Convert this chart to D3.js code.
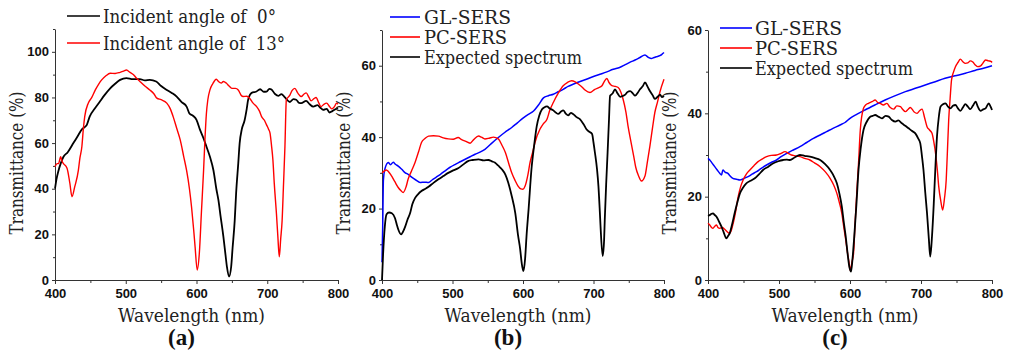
<!DOCTYPE html>
<html>
<head>
<meta charset="utf-8">
<script src="https://cdn.jsdelivr.net/npm/d3@7"></script>
<style>
  body { margin: 0; background: #fff; }
  svg { display: block; }
  .domain, .tick line { stroke: #333; }
</style>
</head>
<body>
<svg id="chart" width="1009" height="351"></svg>
<script>
// ---- data: [wavelength (nm), transmittance (%)] ----

// panel (a)
const aBlack = [[400,40],[402,44],[405,48],[408,51],[412,54],[418,56],[426,60],[432,63],[438,66],[442,67],[445,68],
  [449,71.6],[456,75],[463,78],[470,81],[478,84],[485,86],[492,87.7],[501,88.5],[510,88],[520,88],[527,87.5],[534,87.7],
  [543,87],[550,85],[558,83.3],[565,82],[572,80.4],[579,78],[586,76],[590,73],[595,72],[600,70.2],[605,65.8],[610,62],
  [614,58.5],[619,54],[624,48],[628,40],[631,35],[634,28],[638,19],[641,11],[643,5.8],[646,1.5],[649,5.8],[651,14],
  [654,26],[656,38],[659,51],[661,60],[664,66],[668,70],[671,75],[673,79],[678,82],[684,82.5],[690,83.6],[695,82.5],
  [699,82.6],[703,83.8],[706,83.5],[711,81.5],[716,80.7],[720,81.5],[725,80],[732,78],[737,79.3],[741,79],[745,77.6],
  [748,77.5],[755,78.5],[760,77],[765,76],[771,76.6],[775,75.5],[779,74.6],[784,75],[788,73.4],[792,74],[795,74.6],[800,75.5]];
const aRed = [[400,49.7],[403,51],[405,51],[408,54],[410,52],[412,51],[417,49],[421,42.4],[424,36.5],[428,41],[433,48],
  [435,53],[438,58.5],[440,66],[442,71.6],[447,77.5],[452,80],[457,83.3],[462,86],[466,87.7],[472,89.5],[478,90.6],
  [485,90.5],[492,91],[497,91.5],[501,92],[506,91],[511,90],[515,88.5],[520,87],[527,85],[534,83.3],[540,81.5],
  [544,79.7],[550,79],[558,77.5],[563,75],[567,71.6],[572,66.5],[577,61.4],[582,54],[586,48],[590,40],[593,32],
  [596,22],[598,14.6],[601,4.4],[604,11.7],[607,30],[610,48],[612,62],[614,73],[616,79],[619,83.3],[623,86],
  [628,88],[631,87],[635,86.3],[638,87],[642,86.3],[646,85],[650,84],[655,84],[659,83.3],[663,81],[666,80.4],
  [671,80.5],[675,79.7],[680,77.5],[685,76],[689,74],[692,71.6],[696,70],[699,68],[702,66],[704,64.3],[706,59],
  [708,52.6],[710,42],[713,29],[715,19],[717,10.2],[719,18],[721,26],[723,42],[725,58.5],[727,79],[732,81],
  [735,83],[739,84],[743,82],[748,80.4],[752,81.5],[755,82],[759,80],[762,78.5],[766,79.5],[769,80],[773,77.5],
  [776,76],[780,77],[784,77.5],[788,76],[791,75],[795,76],[798,77.5],[800,77]];

// panel (b)
const bBlue = [[400,5],[401,15],[402,28],[404,31],[409,32.9],[412,32.3],[416,33],[419,32.4],[423,31.9],[428,31],
  [433,30],[437,29.6],[442,28.8],[448,28],[454,27.3],[460,27.4],[466,27.3],[471,28],[477,28.8],[483,29.6],[489,30.5],
  [496,31.5],[504,32.4],[511,33.1],[518,33.8],[525,34.5],[532,35.2],[539,35.8],[546,36.6],[555,38.2],[565,39.9],
  [574,41.3],[584,42.7],[592,44],[600,45.3],[607,46.3],[615,47.3],[622,49],[629,51],[636,51.6],[643,52],[650,52.7],
  [657,53.4],[664,54.2],[671,54.8],[680,55.5],[690,56.2],[699,56.9],[709,57.6],[718,58.2],[728,59],[737,59.5],
  [745,60.3],[752,61],[759,61.6],[766,62.3],[773,63],[778,62.3],[782,62],[786,62.3],[789,62.5],[794,62.8],[797,63.2],[800,63.7]];
const bRed = [[400,30],[403,30.5],[406,30.8],[409,30.4],[413,29.3],[418,27.6],[423,25.9],[427,25],[430,24.5],[434,26],
  [437,28.2],[442,30.6],[447,33],[452,36],[456,38.5],[461,39.6],[466,40.3],[473,40.4],[480,40.3],[487,39.8],[494,39.5],
  [501,39.4],[508,39.9],[513,39.3],[518,38.9],[525,38.3],[530,39.3],[537,40.3],[541,40],[546,39.5],[552,39.7],[558,40],
  [565,39.5],[570,37.8],[575,35.7],[580,32.5],[584,30],[589,27.8],[593,26.3],[597,25.5],[600,25.4],[603,26.3],
  [607,29.5],[610,32.9],[614,36],[617,38.5],[624,42.2],[629,43.8],[634,45],[638,47.5],[643,49.7],[650,52.3],
  [657,54.4],[663,55.3],[669,55.8],[674,55.5],[679,54.8],[684,54],[688,53.2],[695,52.5],[702,53.4],[707,53.8],
  [712,54.4],[715,55.5],[719,56.4],[722,55.3],[726,54.4],[731,54.2],[735,53.9],[739,52.5],[742,50.6],[746,47],
  [749,43.1],[753,38.8],[757,34.7],[760,31.5],[764,29.1],[768,27.7],[773,29.1],[776,32.5],[780,37.5],[784,43],
  [787,46.9],[791,50],[794,52.5],[800,56.2]];
const bBlack = [[400,0],[401.5,7],[404,15],[406.5,18.4],[410,18.9],[414,18.7],[418.5,17.3],[421,15.5],[423,14.2],
  [427,12.8],[430,13.6],[433,15],[436,16.8],[440,18.8],[443,21.2],[447,23],[451,24],[456,24.9],[461,25.5],[466,26.1],
  [473,27.2],[480,28.2],[487,29.1],[494,30],[501,30.7],[508,31.3],[515,32.3],[522,33.3],[529,33.6],[537,33.8],
  [544,33.5],[551,33.6],[556,33.2],[560,32.9],[565,32],[570,31],[575,29.5],[579,27.3],[584,23.5],[589,18.8],
  [593,12.5],[596,8.6],[598,5],[600.5,2.5],[603,6],[605,12.3],[608,20],[612,31],[616,38],[619.5,43.1],[623,46],
  [627,47.8],[630,48.3],[634,48.6],[638,48],[643,47.5],[647,46.8],[650,46.5],[654,47.2],[657,47.5],[661,46.5],
  [664,46.1],[668,46.8],[671,46.5],[676,45.6],[681,45],[686,43.6],[690,42.2],[694,41.5],[698,40.9],[700,38.5],
  [702,35.7],[705,31],[707,26.3],[709,19],[710,15],[713,6.7],[715,11],[716,17],[718,27],[720,35.7],[722,45],
  [723.5,51.6],[727,52.2],[730.5,53.4],[734,52.3],[738,51.3],[741,51.5],[745,51.9],[748,52.6],[752,52.9],[756,52.2],
  [759,51.6],[763,52.5],[766,53.4],[770,54.3],[773,55.3],[777,54],[780,52.9],[784,51.7],[787,50.7],[791,51.3],
  [794.5,51.9],[797,51.2],[800,51.5]];

// panel (c)
const cBlue = [[400,29.2],[402.5,28.8],[406,28],[409.5,27.2],[413,26.4],[416.5,25.6],[419,25.2],[421,26.4],[424,25.9],
  [428,25.6],[431,25],[435,24.4],[440,24.2],[445,24],[451,24.4],[456.5,24.8],[462,25.4],[468.5,26],[475,26.8],
  [482.5,27.6],[489,28.2],[496.5,28.8],[503,29.6],[511,30.4],[520,31.2],[529.5,32],[539,33],[548.5,34],[558,34.8],
  [567,35.6],[576,36.4],[586,37.2],[593,37.8],[600,38.8],[610,39.8],[621,40.8],[635,42],[649.5,43.2],[663,44.2],
  [678,45.2],[692,46],[706,46.8],[720,47.6],[734,48.4],[748,49],[762.5,49.6],[776,50.3],[788,50.8],[800,51.4]];
const cRed = [[400,13.6],[402.5,13.2],[405,12.6],[407,12.4],[409.5,12.9],[412,13.2],[414,12.6],[416.5,12.4],[420,12.6],
  [423.5,12.2],[427,11.6],[430.5,11.2],[433,12],[435.5,13.6],[439,16.5],[442.5,20],[446,22.4],[449.5,24],
  [454,25.4],[459,26.4],[465,27.5],[470.5,28.4],[476,29],[482.5,29.6],[489,29.9],[496.5,30],[502,30.3],[508.5,30.8],
  [513,30.4],[517.5,30],[523,29.8],[529.5,29.6],[536,29.2],[543.5,28.8],[550,28.1],[558,27.2],[565,26],[572,24.4],
  [577,22.8],[581.5,20.8],[585,18.6],[588.5,16],[591,13],[594,9.6],[596.5,6.5],[598.8,4],[600,2.4],[603,4.5],
  [605,6.4],[607,13],[609.5,20.8],[612,28],[614.5,36],[619,41.2],[622,42],[626,42.4],[631,42.8],[635.5,43.2],
  [639,42.6],[642.5,42.4],[647,42],[652,42.4],[656,41.5],[661.5,41],[666,41.8],[671,41.6],[674,41],[678,40.4],
  [682,41],[685,41.4],[690,40.4],[694.5,40],[698,40.6],[701.5,41],[705,39],[708.5,36.8],[712,36],[715.5,35.2],
  [718,33.2],[720.5,30.4],[723,26.4],[725,22.4],[728,18.8],[730.5,16.8],[733,19.5],[735.5,24],[737,30],[739,38.4],
  [741,43.5],[743,48],[746,50],[748.5,51.2],[752,52.2],[755.5,53],[759,52.4],[762.5,52],[766,52.1],[769.5,52.6],
  [773,52.3],[776.5,51.6],[780,51.2],[784,51.4],[787,52],[791,52.8],[795,52.6],[799,52.4],[800,52.2]];
const cBlack = [[400,15.4],[402.5,15.6],[405,15.9],[407,16],[409.5,15.6],[412,15.2],[415,14.2],[419,12.8],[422,11.5],
  [426,10],[428,10.5],[430.5,11.2],[434,13.4],[437.5,16],[441,18.4],[445,20.8],[449,22.1],[454,23.2],[460,23.8],
  [466,24.4],[472,25.4],[477.5,26.4],[485,27.2],[492,28],[499,28.5],[506,28.8],[511,28.9],[515.5,28.8],[522,29.4],
  [529.5,30],[536,29.8],[543.5,29.6],[550,29.3],[558,28.8],[565,27.8],[572,26.4],[577,25],[581.5,23.2],[585,20.8],
  [588.5,17.6],[591,14.2],[594,10.4],[596.5,6.5],[599,3.2],[601.5,2],[603.5,5],[606,10.4],[609,18],[612,26.4],
  [615,31.5],[619,36],[623,37.8],[628.5,39.2],[632,39.4],[635.5,39.6],[640,39.2],[645,38.8],[650,39.4],[654.5,39.2],
  [659,38.4],[664,38],[668,38.3],[673,37.6],[678,37],[682.5,36.4],[687,35.8],[692,35.2],[696,34],[699,32.8],
  [701.5,29.5],[703.5,26.4],[706,21],[708.5,16],[711,10],[713,5.6],[715.5,10.5],[718,18.4],[720,26],[722.5,34.4],
  [725,39],[727.5,41.6],[731,42.2],[734.5,42.4],[738,41.6],[741.5,41.2],[745,41.8],[748.5,42],[752,41.2],
  [755.5,40.6],[759,41.4],[762.5,42.2],[766,41.6],[769.5,41],[773,41.8],[777,42.8],[780,41.6],[784,40.6],
  [787,40.9],[791,41.2],[795.5,42.4],[798,41.6],[800,40.8]];

// tick values and labels
const xTicks = [400, 500, 600, 700, 800];
const xMinorTicks = [450, 550, 650, 750];
const aYTicks = [0, 20, 40, 60, 80, 100];
const bYTicks = [0, 20, 40, 60];
const cYTicks = [0, 20, 40, 60];
const xTitle = "Wavelength (nm)";
const yTitle = "Transmittance (%)";
const panelNames = ["(a)", "(b)", "(c)"];
const aLegend = ["Incident angle of  0°", "Incident angle of  13°"];
const sersLegend = ["GL-SERS", "PC-SERS", "Expected spectrum"];

// regular Liberation Serif is not picked up here, DejaVu Serif squeezed to Times widths instead
const SERIF = "'DejaVu Serif', 'Liberation Serif', serif";
const SERIF_BOLD = "'Liberation Serif', 'Times New Roman', serif";
const SANS = "'Liberation Sans', Arial, Helvetica, sans-serif";

const svg = d3.select("#chart");

// layout of the three panels (pixel box of the plot area)
const panels = [
  { name: panelNames[0], left: 55, right: 338, top: 29, bottom: 280, yMax: 110, yTicks: aYTicks, yMinorStep: 10,
    series: [{ data: aBlack, color: "#000", width: 1.8 }, { data: aRed, color: "#ff0000", width: 1.4 }],
    legend: { x1: 67, x2: 100, tx: 103, y0: 16, dy: 27, labels: aLegend, widths: [173, 182], colors: ["#000", "#ff0000"] } },
  { name: panelNames[1], left: 382, right: 664, top: 30, bottom: 280, yMax: 70, yTicks: bYTicks, yMinorStep: 10,
    series: [{ data: bBlue, color: "#0000ff", width: 1.5 }, { data: bRed, color: "#ff0000", width: 1.4 }, { data: bBlack, color: "#000", width: 1.8 }],
    legend: { x1: 390, x2: 420, tx: 424, y0: 17, dy: 20, labels: sersLegend, widths: [87, 83, 158], colors: ["#0000ff", "#ff0000", "#000"] } },
  { name: panelNames[2], left: 708, right: 992, top: 30, bottom: 280, yMax: 60, yTicks: cYTicks, yMinorStep: 10,
    series: [{ data: cBlue, color: "#0000ff", width: 1.5 }, { data: cRed, color: "#ff0000", width: 1.4 }, { data: cBlack, color: "#000", width: 1.8 }],
    legend: { x1: 720, x2: 752, tx: 755, y0: 28, dy: 20, labels: sersLegend, widths: [87, 83, 158], colors: ["#0000ff", "#ff0000", "#000"] } }
];

function styleTicks(sel) {
  sel.selectAll(".tick text")
    .attr("font-family", SANS)
    .attr("font-weight", "bold")
    .attr("font-size", 13)
    .attr("fill", "#111");
}

panels.forEach(p => {
  const x = d3.scaleLinear().domain([400, 800]).range([p.left, p.right]);
  const y = d3.scaleLinear().domain([0, p.yMax]).range([p.bottom, p.top]);
  const g = svg.append("g");

  // minor ticks first, then the major axis on top
  const yMinor = d3.range(0, p.yMax + 0.1, p.yMinorStep).filter(v => !p.yTicks.includes(v));
  g.append("g").attr("transform", `translate(${p.left},0)`)
    .call(d3.axisLeft(y).tickValues(yMinor).tickSize(2).tickFormat(""))
    .call(s => s.select(".domain").remove());
  g.append("g").attr("transform", `translate(0,${p.bottom})`)
    .call(d3.axisBottom(x).tickValues(xMinorTicks).tickSize(3).tickFormat(""))
    .call(s => s.select(".domain").remove());

  g.append("g").attr("transform", `translate(${p.left},0)`)
    .call(d3.axisLeft(y).tickValues(p.yTicks).tickSize(3).tickSizeOuter(0).tickPadding(3))
    .call(styleTicks);
  g.append("g").attr("transform", `translate(0,${p.bottom})`)
    .call(d3.axisBottom(x).tickValues(xTicks).tickSize(4).tickSizeOuter(0).tickPadding(5))
    .call(styleTicks);

  const line = d3.line().x(d => x(d[0])).y(d => y(d[1])).curve(d3.curveMonotoneX);
  p.series.forEach(s => {
    g.append("path").datum(s.data)
      .attr("fill", "none")
      .attr("stroke", s.color)
      .attr("stroke-width", s.width)
      .attr("stroke-linejoin", "round")
      .attr("d", line);
  });

  // titles
  const cx = (p.left + p.right) / 2 - 5;
  g.append("text")
    .attr("font-family", SERIF).attr("font-size", 19).attr("fill", "#222")
    .attr("x", cx).attr("y", 322).attr("text-anchor", "middle")
    .attr("textLength", 147).attr("lengthAdjust", "spacingAndGlyphs").text(xTitle);
  g.append("text")
    .attr("font-family", SERIF).attr("font-size", 18).attr("fill", "#222")
    .attr("transform", `translate(${p.left - 32},163) rotate(-90)`)
    .attr("text-anchor", "middle")
    .attr("textLength", 143).attr("lengthAdjust", "spacingAndGlyphs").text(yTitle);
  g.append("text")
    .attr("font-family", SERIF_BOLD).attr("font-size", 23).attr("font-weight", "bold").attr("fill", "#111")
    .attr("x", cx - 10).attr("y", 345).attr("text-anchor", "middle").text(p.name);

  // legend
  const lg = g.append("g");
  p.legend.labels.forEach((lab, i) => {
    const ly = p.legend.y0 + i * p.legend.dy;
    lg.append("line").attr("x1", p.legend.x1).attr("x2", p.legend.x2)
      .attr("y1", ly).attr("y2", ly)
      .attr("stroke", p.legend.colors[i]).attr("stroke-width", 1.6);
    lg.append("text")
      .attr("font-family", SERIF).attr("font-size", 18).attr("fill", "#222")
      .attr("x", p.legend.tx).attr("y", ly + 6.5)
      .attr("textLength", p.legend.widths[i]).attr("lengthAdjust", "spacingAndGlyphs")
      .attr("xml:space", "preserve").style("white-space", "pre")
      .text(lab);
  });
});
</script>
</body>
</html>
